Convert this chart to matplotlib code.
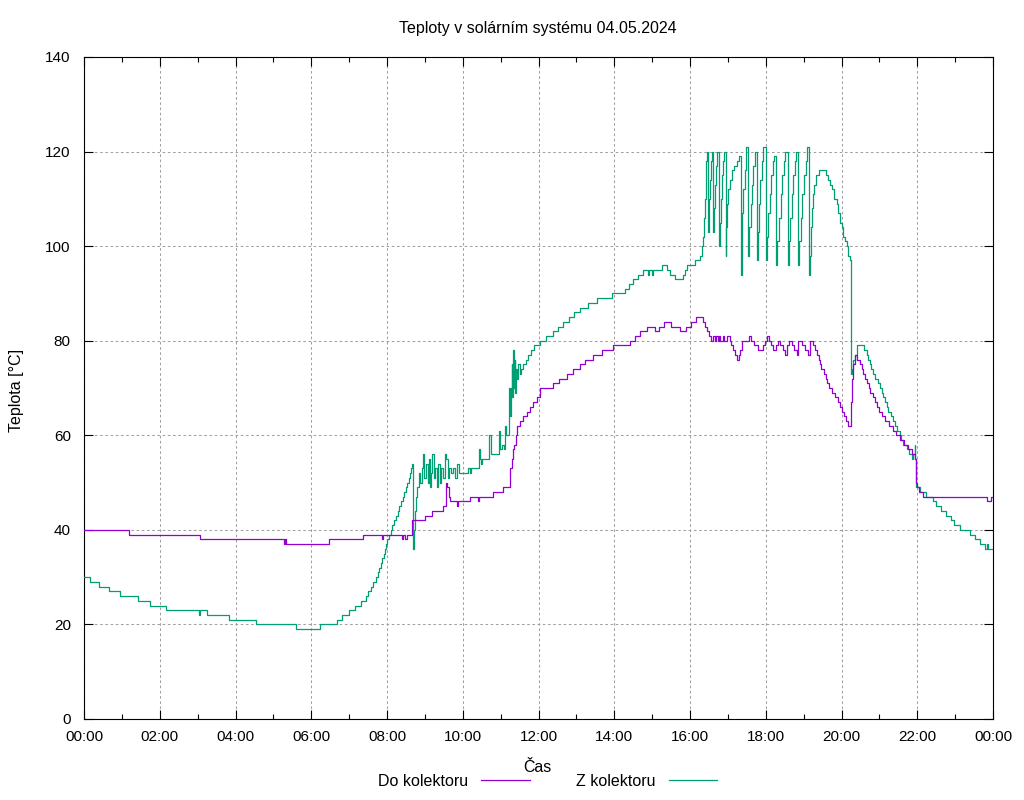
import matplotlib
matplotlib.use('Agg')
import matplotlib.pyplot as plt
from matplotlib.ticker import MultipleLocator

plt.rcParams['font.family'] = ['Liberation Sans', 'DejaVu Sans']

title = 'Teploty v solárním systému 04.05.2024'
x_label = 'Čas'
y_label = 'Teplota [°C]'
series_names = ['Do kolektoru', 'Z kolektoru']
x_ticks = [0, 2, 4, 6, 8, 10, 12, 14, 16, 18, 20, 22, 24]
x_tick_labels = ['00:00', '02:00', '04:00', '06:00', '08:00', '10:00', '12:00',
                 '14:00', '16:00', '18:00', '20:00', '22:00', '00:00']
y_ticks = [0, 20, 40, 60, 80, 100, 120, 140]

# "Do kolektoru" (hours, degC) - step changes
do_t = [0.00, 1.18, 3.07, 5.27, 5.30, 5.33, 6.47, 7.37, 7.86, 7.89, 8.40, 8.43, 8.47, 8.52,
        8.65, 9.00, 9.19, 9.49, 9.55, 9.59, 9.64, 9.66, 9.85, 9.88, 10.19, 10.40, 10.42,
        10.81, 11.07, 11.25, 11.30, 11.33, 11.36, 11.40, 11.44, 11.51, 11.60, 11.69, 11.78,
        11.86, 11.95, 12.04, 12.39, 12.55, 12.74, 12.90, 13.10, 13.23, 13.45, 13.67, 13.98,
        14.42, 14.55, 14.68, 14.86, 15.08, 15.19, 15.31, 15.51, 15.73, 15.89, 16.02, 16.17,
        16.35, 16.40, 16.44, 16.50, 16.55, 16.60, 16.66, 16.69, 16.73, 16.76, 16.80, 16.86,
        16.90, 16.97, 17.05, 17.07, 17.13, 17.20, 17.24, 17.29, 17.32, 17.36, 17.55, 17.62,
        17.70, 17.80, 17.92, 17.98, 18.02, 18.08, 18.13, 18.19, 18.28, 18.32, 18.38, 18.45,
        18.51, 18.56, 18.62, 18.68, 18.75, 18.82, 18.86, 18.95, 19.03, 19.12, 19.17, 19.25,
        19.30, 19.35, 19.40, 19.43, 19.47, 19.53, 19.58, 19.62, 19.68, 19.76, 19.83, 19.90,
        19.96, 20.02, 20.07, 20.13, 20.18, 20.25, 20.27, 20.30, 20.35, 20.42, 20.49, 20.55,
        20.58, 20.63, 20.67, 20.72, 20.76, 20.82, 20.88, 20.95, 21.00, 21.08, 21.15, 21.25,
        21.35, 21.45, 21.55, 21.65, 21.76, 21.85, 21.93, 21.97, 21.99, 22.04, 22.14, 23.83,
        23.96, 24.00]
do_v = [40, 39, 38, 37, 38, 37, 38, 39, 38, 39, 38, 39, 38, 39,
        42, 43, 44, 45, 50, 49, 47, 46, 45, 46, 47, 46, 47,
        48, 49, 53, 55, 57, 58, 60, 62, 63, 64, 65, 66,
        67, 68, 70, 71, 72, 73, 74, 75, 76, 77, 78, 79,
        80, 81, 82, 83, 82, 83, 84, 83, 82, 83, 84, 85,
        84, 83, 82, 81, 80, 81, 80, 81, 80, 81, 80, 81,
        80, 81, 80, 79, 78, 77, 76, 77, 78, 80, 81, 80,
        79, 78, 79, 80, 81, 80, 79, 78, 79, 80, 79, 78,
        77, 79, 80, 79, 78, 77, 80, 79, 78, 77, 80, 79,
        78, 77, 76, 75, 74, 73, 72, 71, 70, 69, 68, 67,
        66, 65, 64, 63, 62, 67, 72, 75, 77, 76, 75, 74,
        73, 72, 71, 70, 69, 68, 67, 66, 65, 64, 63, 62,
        61, 60, 59, 58, 57, 56, 55, 50, 49, 48, 47, 46,
        47, 47]

# "Z kolektoru" (hours, degC) - step changes
z_t = [0.00, 0.16, 0.40, 0.66, 0.95, 1.43, 1.74, 2.16, 3.03, 3.06, 3.26, 3.84, 4.55, 5.59,
       6.22, 6.67, 6.82, 7.00, 7.15, 7.31, 7.44, 7.50, 7.57, 7.63, 7.70, 7.75, 7.79, 7.83,
       7.88, 7.92, 7.95, 7.98, 8.01, 8.05, 8.10, 8.14, 8.19, 8.23, 8.28, 8.32, 8.37, 8.41,
       8.45, 8.49, 8.54, 8.58, 8.61, 8.64, 8.67, 8.68, 8.70, 8.72, 8.74, 8.76, 8.80, 8.84,
       8.87, 8.92, 8.96, 8.99, 9.03, 9.07, 9.10, 9.13, 9.17, 9.20, 9.24, 9.28, 9.32, 9.35,
       9.39, 9.43, 9.47, 9.52, 9.56, 9.60, 9.65, 9.70, 9.75, 9.80, 9.85, 9.90, 9.93, 10.14,
       10.18, 10.22, 10.42, 10.45, 10.48, 10.52, 10.70, 10.74, 10.96, 10.99, 11.04, 11.08,
       11.12, 11.15, 11.19, 11.21, 11.23, 11.25, 11.27, 11.29, 11.31, 11.33, 11.35, 11.37,
       11.39, 11.41, 11.44, 11.47, 11.51, 11.55, 11.60, 11.66, 11.73, 11.80, 11.88, 12.04,
       12.21, 12.39, 12.52, 12.65, 12.80, 12.95, 13.10, 13.30, 13.55, 13.93, 14.28, 14.40,
       14.50, 14.62, 14.75, 14.90, 14.93, 15.00, 15.03, 15.25, 15.40, 15.48, 15.60, 15.81,
       15.88, 15.92, 16.13, 16.27, 16.33,
       16.35, 16.37, 16.39, 16.41, 16.43, 16.45, 16.48,
       16.49, 16.51, 16.53, 16.55, 16.57, 16.62,
       16.64, 16.66, 16.68, 16.70, 16.77,
       16.79, 16.81, 16.84, 16.87, 16.90, 16.94,
       16.96, 16.98, 17.01, 17.05, 17.10, 17.17, 17.24, 17.29, 17.34,
       17.36, 17.38, 17.41, 17.44, 17.47, 17.49, 17.54,
       17.57, 17.60, 17.63, 17.67, 17.71, 17.77,
       17.80, 17.83, 17.86, 17.90, 17.94, 18.01,
       18.04, 18.07, 18.10, 18.14, 18.18, 18.21, 18.28,
       18.31, 18.35, 18.39, 18.43, 18.48, 18.52, 18.58,
       18.61, 18.65, 18.69, 18.73, 18.77, 18.81, 18.86,
       18.89, 18.93, 18.97, 19.01, 19.06, 19.10, 19.15,
       19.17, 19.19, 19.21, 19.24, 19.28, 19.33, 19.40,
       19.60, 19.65, 19.70, 19.75, 19.80, 19.87, 19.92, 19.96, 20.00,
       20.05, 20.10, 20.14, 20.18, 20.22, 20.24, 20.26, 20.28, 20.31, 20.35, 20.40, 20.60,
       20.67, 20.71, 20.75, 20.79, 20.84, 20.88, 20.97, 21.02, 21.06, 21.10, 21.15, 21.19,
       21.23, 21.30, 21.37, 21.42, 21.46, 21.54, 21.58, 21.63, 21.72, 21.78, 21.85, 21.90,
       21.93, 21.95, 21.98, 22.07, 22.24, 22.42, 22.50, 22.64, 22.77, 22.88, 22.97, 23.13,
       23.40, 23.53, 23.66, 23.79, 23.84, 23.87, 24.00]
z_v = [30, 29, 28, 27, 26, 25, 24, 23, 22, 23, 22, 21, 20, 19,
       20, 21, 22, 23, 24, 25, 26, 27, 28, 29, 30, 31, 32, 33,
       34, 35, 36, 37, 38, 39, 40, 41, 42, 43, 44, 45, 46, 47,
       48, 49, 50, 51, 52, 53, 54, 36, 38, 40, 44, 47, 49, 52,
       50, 53, 56, 51, 54, 50, 55, 49, 52, 56, 51, 53, 49, 54,
       50, 53, 51, 56, 55, 51, 53, 52, 53, 51, 54, 52, 52, 53,
       52, 53, 57, 55, 54, 55, 60, 56, 61, 57, 58, 57,
       62, 60, 60, 66, 70, 64, 70, 75, 68, 78, 70, 76,
       69, 74, 72, 75, 73, 74, 75, 76, 77, 78, 79, 80,
       81, 82, 83, 84, 85, 86, 87, 88, 89, 90, 91, 92,
       93, 94, 95, 94, 95, 94, 95, 96, 95, 94, 93, 94,
       95, 96, 97, 98, 100,
       102, 106, 110, 114, 118, 120, 103,
       106, 110, 114, 118, 120, 103,
       108, 113, 117, 120, 100,
       105, 110, 115, 118, 120, 98,
       104, 109, 112, 114, 116, 117, 118, 119, 94,
       101, 107, 112, 116, 119, 121, 98,
       104, 109, 113, 117, 120, 97,
       103, 109, 114, 118, 121, 97,
       102, 107, 111, 115, 118, 119, 96,
       101, 106, 111, 115, 118, 120, 96,
       101, 106, 111, 115, 118, 120, 96,
       101, 106, 111, 115, 118, 121, 94,
       98, 104, 108, 111, 113, 115, 116,
       115, 114, 113, 112, 110, 109, 107, 105, 104,
       102, 101, 100, 98, 97, 88, 73, 74, 76, 77, 79, 78,
       77, 76, 75, 74, 73, 72, 71, 70, 69, 68, 67, 66,
       65, 64, 63, 62, 61, 60, 59, 58, 57, 56, 55, 56,
       58, 55, 49, 48, 47, 46, 45, 44, 43, 42, 41, 40,
       39, 38, 37, 36, 37, 36, 36]

W, H = 1024, 800
fig = plt.figure(figsize=(W / 100, H / 100), dpi=100)
ax = fig.add_axes([84 / W, 1 - 719 / H, (993 - 84) / W, (719 - 57) / H])

ax.plot(z_t, z_v, drawstyle='steps-post', color='#009E73', lw=0.9, label=series_names[1], zorder=3)
ax.plot(do_t, do_v, drawstyle='steps-post', color='#9400D3', lw=0.9, label=series_names[0], zorder=4)

ax.set_xlim(0, 24)
ax.set_ylim(0, 140)
ax.set_xticks(x_ticks)
ax.set_xticklabels(x_tick_labels)
ax.xaxis.set_minor_locator(MultipleLocator(1))
ax.set_yticks(y_ticks)
ax.tick_params(which='both', direction='in', top=True, right=True, width=0.8, labelsize=11)
ax.tick_params(which='major', length=6.5)
ax.tick_params(which='minor', length=3.6)
ax.tick_params(axis='x', pad=8)
ax.tick_params(axis='y', pad=9.5)
for s in ax.spines.values():
    s.set_linewidth(0.8)
ax.grid(True, which='major', color='#a0a0a0', linestyle=(0, (2.5, 2.5)), linewidth=0.75)

fig.text(538 / W, 1 - 33 / H, title, ha='center', va='baseline', fontsize=11.5)
fig.text(537 / W, 1 - 772 / H, x_label, ha='center', va='baseline', fontsize=11.5)
fig.text(16.5 / W, 1 - 390 / H, y_label, ha='center', va='center', rotation=90, fontsize=11.5)

h, l = ax.get_legend_handles_labels()
order = [1, 0]
fig.legend([h[i] for i in order], [l[i] for i in order], loc='center left',
           bbox_to_anchor=(378 / W, 1 - 781 / H), ncol=2, markerfirst=False, frameon=False,
           handlelength=3.05, handletextpad=0.81, columnspacing=2.9, borderaxespad=0,
           borderpad=0, fontsize=11.5)

fig.savefig('out.png', dpi=100)
